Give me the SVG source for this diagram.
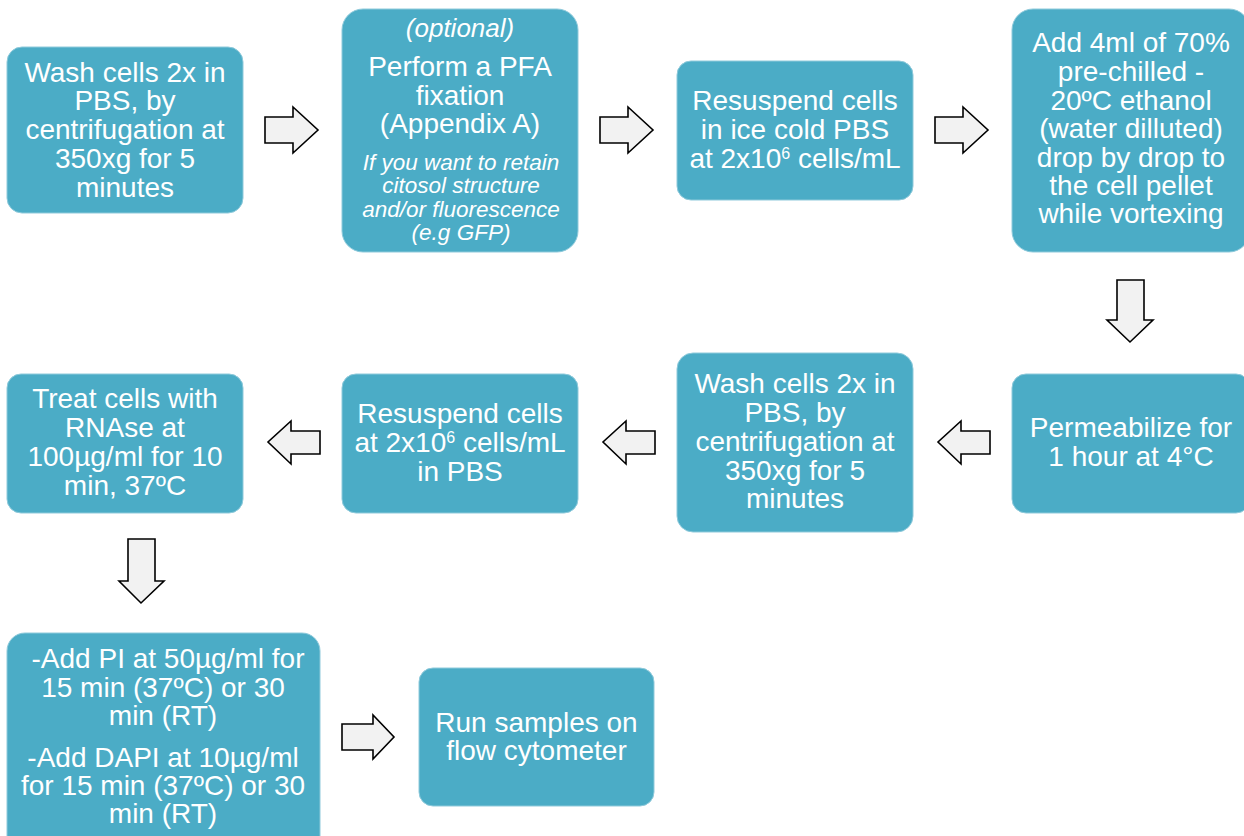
<svg xmlns="http://www.w3.org/2000/svg" width="1244" height="836" viewBox="0 0 1244 836">
<style>
.box{fill:#4bacc6;stroke:#8fcadb;stroke-width:1}
.arr{fill:#f2f2f2;stroke:#000;stroke-width:1.6;stroke-linejoin:miter}
text{font-family:"Liberation Sans",Arial,sans-serif;fill:#fff;text-anchor:middle}
.t{font-size:28px}
.i{font-style:italic;font-size:22.5px}
.o{font-style:italic;font-size:26px}
.sup{font-size:16px}
</style>
<rect width="1244" height="836" fill="#fff"/>
<g id="n1"><rect class="box" x="7" y="47" width="236" height="166" rx="15"/>
<text class="t"><tspan x="125" y="82">Wash cells 2x in</tspan><tspan x="125" y="110">PBS, by</tspan><tspan x="125" y="139">centrifugation at</tspan><tspan x="125" y="168">350xg for 5</tspan><tspan x="125" y="197">minutes</tspan></text></g>
<g id="n2"><rect class="box" x="342" y="9" width="236" height="243" rx="21"/>
<text class="o" x="460" y="37">(optional)</text>
<text class="t"><tspan x="460" y="76">Perform a PFA</tspan><tspan x="460" y="105">fixation</tspan><tspan x="460" y="133">(Appendix A)</tspan></text>
<text class="i"><tspan x="461" y="170">If you want to retain</tspan><tspan x="461" y="193">citosol structure</tspan><tspan x="461" y="217">and/or fluorescence</tspan><tspan x="461" y="240">(e.g GFP)</tspan></text></g>
<g id="n3"><rect class="box" x="677" y="61" width="236" height="139" rx="14"/>
<text class="t"><tspan x="795" y="110">Resuspend cells</tspan><tspan x="795" y="139">in ice cold PBS</tspan><tspan x="795" y="168">at 2x10<tspan class="sup" dy="-9">6</tspan><tspan dy="9"> cells/mL</tspan></tspan></text></g>
<g id="n4"><rect class="box" x="1012" y="9" width="238" height="243" rx="21"/>
<text class="t"><tspan x="1131" y="52">Add 4ml of 70%</tspan><tspan x="1131" y="81">pre-chilled -</tspan><tspan x="1131" y="110">20ºC ethanol</tspan><tspan x="1131" y="138">(water dilluted)</tspan><tspan x="1131" y="167">drop by drop to</tspan><tspan x="1131" y="195">the cell pellet</tspan><tspan x="1131" y="223">while vortexing</tspan></text></g>
<g id="n5"><rect class="box" x="1012" y="374" width="238" height="139" rx="14"/>
<text class="t"><tspan x="1131" y="437">Permeabilize for</tspan><tspan x="1131" y="466">1 hour at 4°C</tspan></text></g>
<g id="n6"><rect class="box" x="677" y="353" width="236" height="179" rx="16"/>
<text class="t"><tspan x="795" y="393">Wash cells 2x in</tspan><tspan x="795" y="422">PBS, by</tspan><tspan x="795" y="451">centrifugation at</tspan><tspan x="795" y="480">350xg for 5</tspan><tspan x="795" y="508">minutes</tspan></text></g>
<g id="n7"><rect class="box" x="342" y="374" width="236" height="139" rx="14"/>
<text class="t"><tspan x="460" y="423">Resuspend cells</tspan><tspan x="460" y="452">at 2x10<tspan class="sup" dy="-9">6</tspan><tspan dy="9"> cells/mL</tspan></tspan><tspan x="460" y="481">in PBS</tspan></text></g>
<g id="n8"><rect class="box" x="7" y="374" width="236" height="139" rx="14"/>
<text class="t"><tspan x="125" y="408">Treat cells with</tspan><tspan x="125" y="437">RNAse at</tspan><tspan x="125" y="466">100µg/ml for 10</tspan><tspan x="125" y="495">min, 37ºC</tspan></text></g>
<g id="n9"><rect class="box" x="7" y="633" width="313" height="225" rx="18"/>
<text class="t"><tspan x="168" y="668">-Add PI at 50µg/ml for</tspan><tspan x="163" y="697">15 min (37ºC) or 30</tspan><tspan x="163" y="725">min (RT)</tspan><tspan x="163" y="767">-Add DAPI at 10µg/ml</tspan><tspan x="163" y="795">for 15 min (37ºC) or 30</tspan><tspan x="163" y="823">min (RT)</tspan></text></g>
<g id="n10"><rect class="box" x="419" y="668" width="235" height="138" rx="14"/>
<text class="t"><tspan x="536.5" y="732">Run samples on</tspan><tspan x="536.5" y="760">flow cytometer</tspan></text></g>
<g id="connectors">
<polygon class="arr" points="265,117 293,117 293,107 318,130 293,153 293,143 265,143"/>
<polygon class="arr" points="600,117 628,117 628,107 653,130 628,153 628,143 600,143"/>
<polygon class="arr" points="935,117 963,117 963,107 988,130 963,153 963,143 935,143"/>
<polygon class="arr" points="1117,280 1144,280 1144,320 1153,320 1130,342 1107,320 1117,320"/>
<polygon class="arr" points="990,431 961,431 961,421 938,442 961,464 961,454 990,454"/>
<polygon class="arr" points="655,431 626,431 626,421 603,442 626,464 626,454 655,454"/>
<polygon class="arr" points="320,431 291,431 291,421 268,442 291,464 291,454 320,454"/>
<polygon class="arr" points="128,539 155,539 155,581 164,581 141,603 119,581 128,581"/>
<polygon class="arr" points="342,724 373,724 373,715 394,737 373,759 373,750 342,750"/>
</g>
</svg>
